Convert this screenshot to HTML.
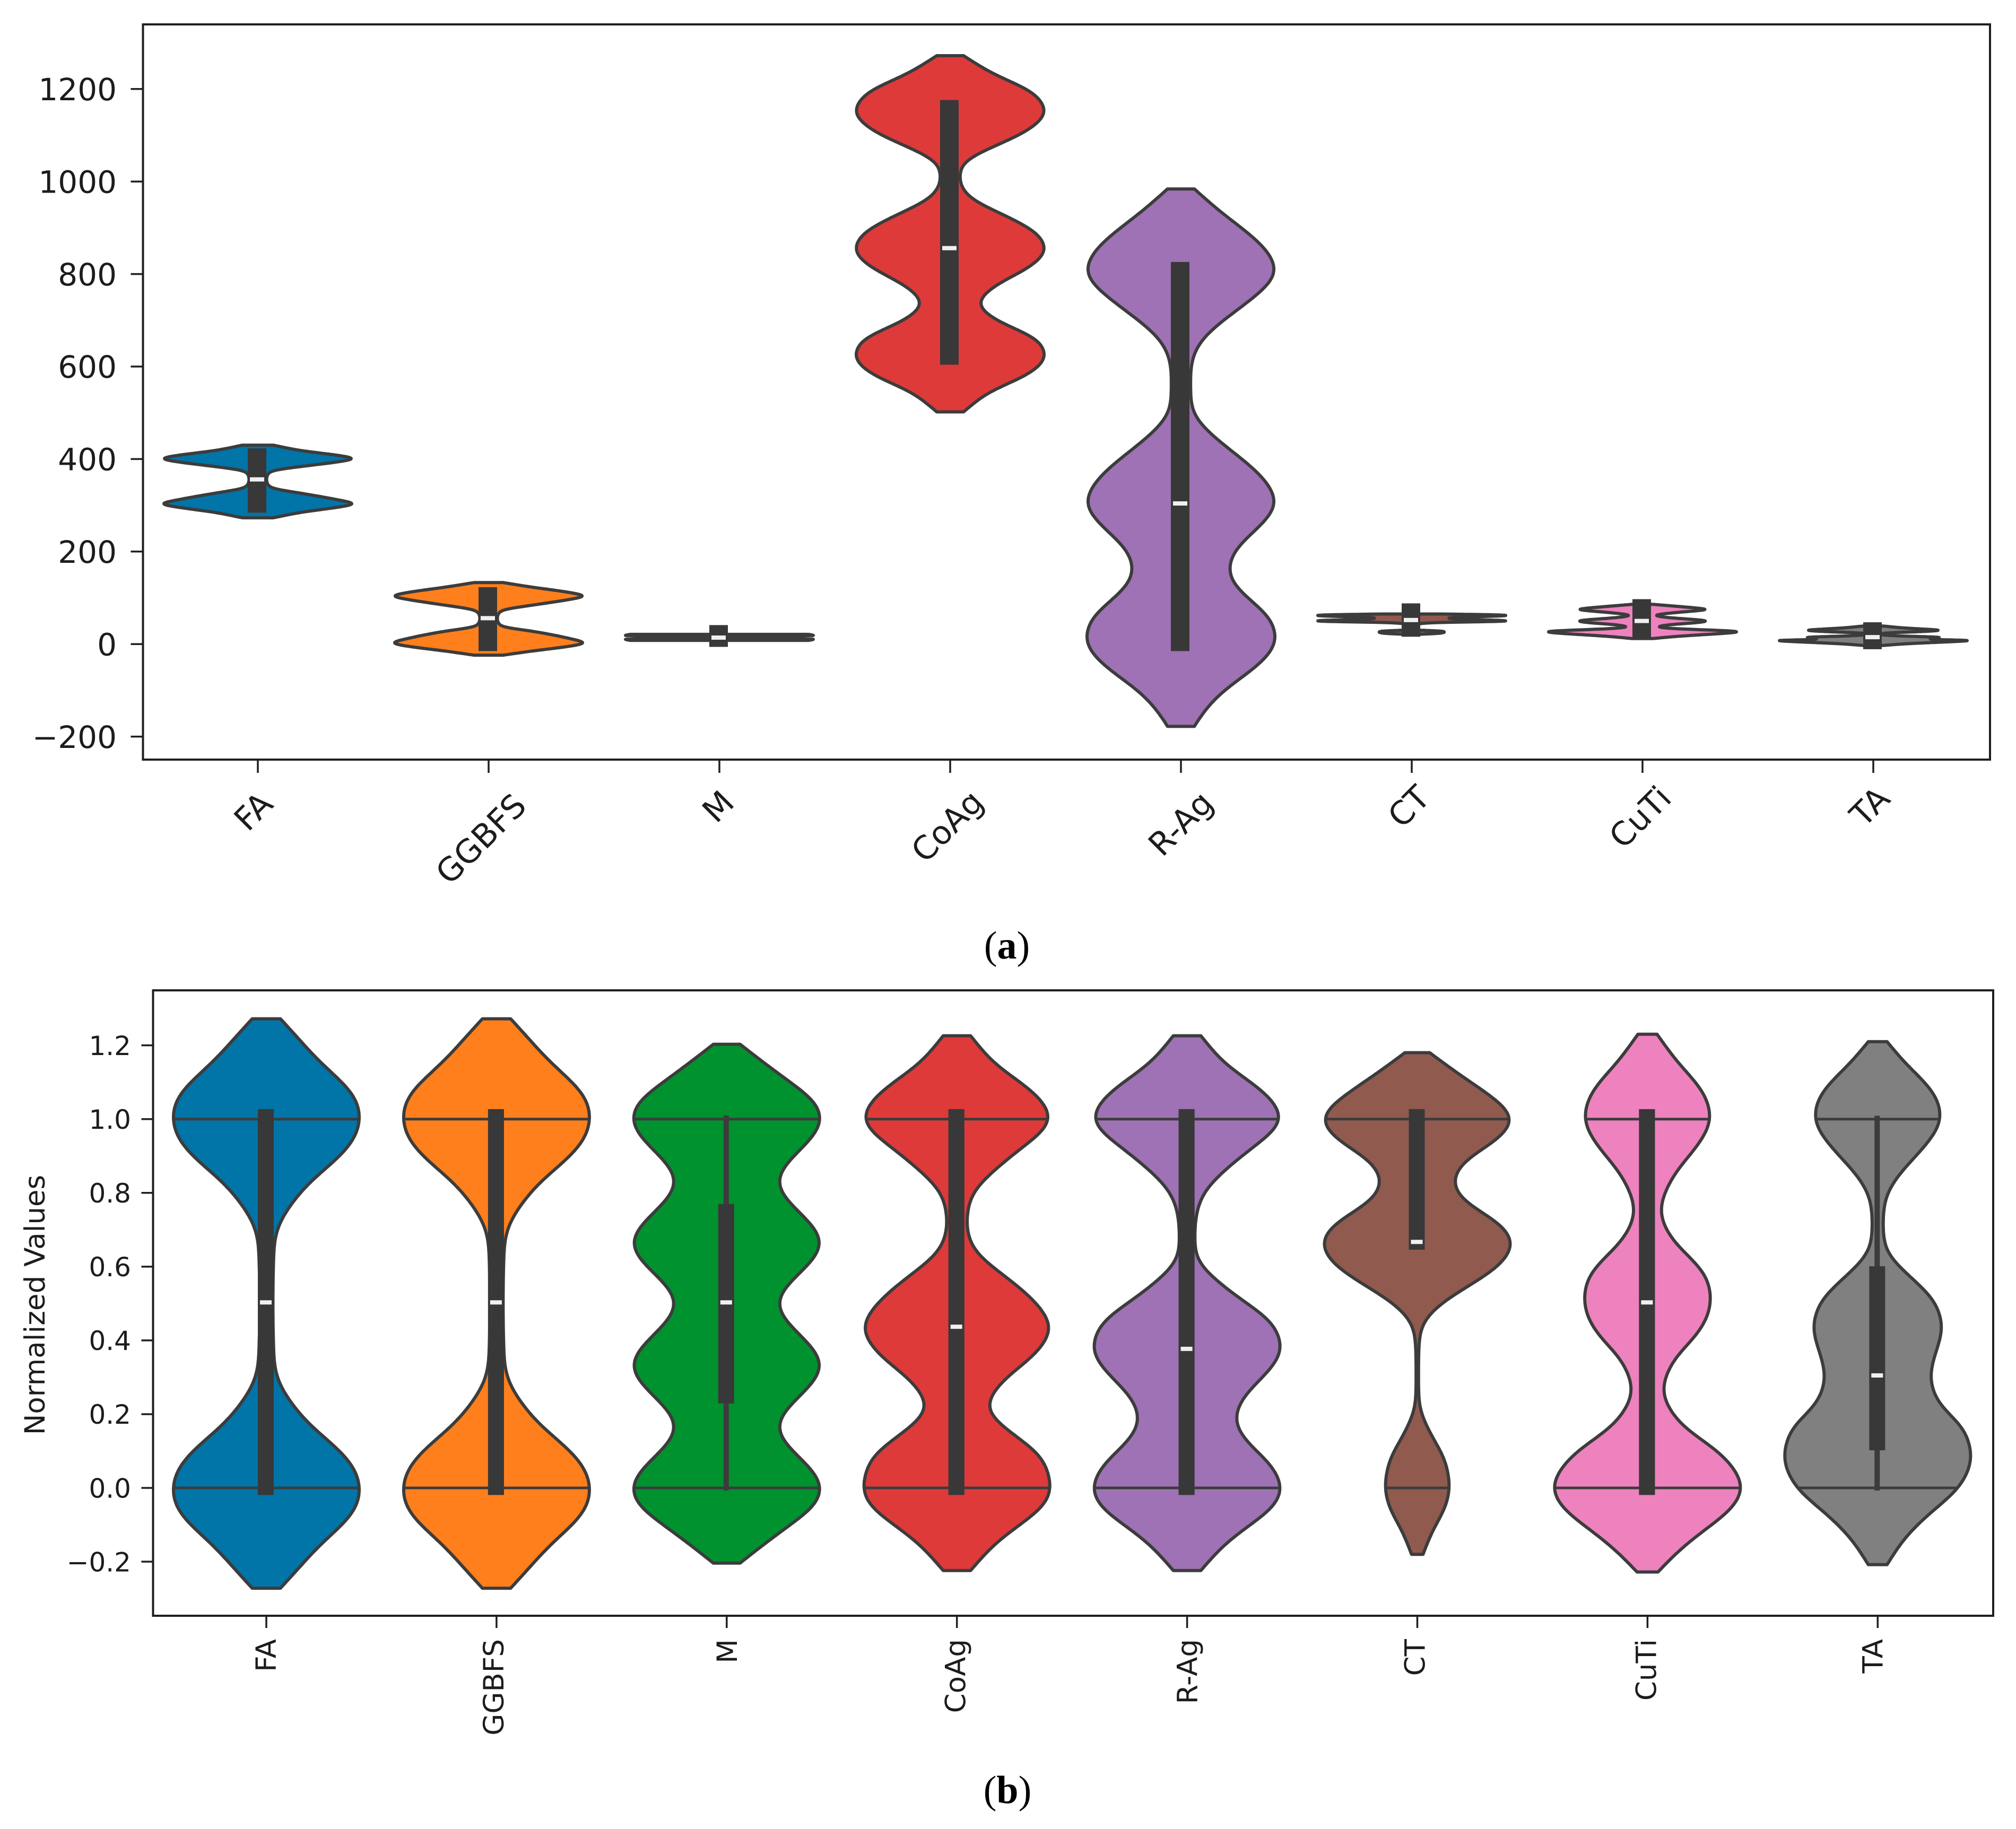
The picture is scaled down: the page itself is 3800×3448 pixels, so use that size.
<!DOCTYPE html>
<html lang="en">
<head>
<meta charset="utf-8">
<title>Violin plots of mix proportions: raw (a) and normalized (b)</title>
<style>
html,body{margin:0;padding:0;background:#fff;width:3800px;height:3448px;overflow:hidden}
svg{display:block}
text{font-family:"DejaVu Sans","Liberation Sans",sans-serif;fill:#1c1c1c}
.caption{font-family:"Liberation Serif",serif;font-size:74px;fill:#000}
</style>
</head>
<body>
<svg id="figure" xmlns="http://www.w3.org/2000/svg" width="3800" height="3448" viewBox="0 0 3800 3448">
  <rect x="0" y="0" width="3800" height="3448" fill="#fff"/>
  <g id="panel-a"></g>
  <g id="panel-b"></g>
  <text class="caption" x="1898" y="1807" text-anchor="middle">(<tspan font-weight="bold">a</tspan>)</text>
  <text class="caption" x="1899" y="3399" text-anchor="middle">(<tspan font-weight="bold">b</tspan>)</text>
  <text transform="translate(84 2460) rotate(-90)" text-anchor="middle" font-size="53">Normalized Values</text>
</svg>
<script>
// ---------- shared categories ----------
const categories = ['FA', 'GGBFS', 'M', 'CoAg', 'R-Ag', 'CT', 'CuTi', 'TA'];
const fillColors = ['#0174a8', '#ff7f1c', '#00922e', '#de3a3a', '#9e72b4', '#915a4f', '#ee82be', '#808080'];

// ---------- panel (a): raw values ----------
const aYTicks = [-200, 0, 200, 400, 600, 800, 1000, 1200];
const aYTickLabels = ['\u2212200', '0', '200', '400', '600', '800', '1000', '1200'];

const aFAValues = [430, 418, 409, 401, 393, 384, 374, 366, 356, 346, 338, 326, 313, 303, 295, 285, 273];
const aFADensity = [0.16, 0.45, 0.8, 1, 0.8, 0.45, 0.14, 0.1, 0.09, 0.1, 0.14, 0.45, 0.8, 1, 0.8, 0.45, 0.16];
const aGGBFSValues = [133, 123, 113, 104, 95, 84, 73, 65, 56, 46, 38, 28, 14, 2, -6, -15, -24];
const aGGBFSDensity = [0.15, 0.45, 0.8, 1, 0.8, 0.45, 0.14, 0.1, 0.09, 0.1, 0.14, 0.45, 0.8, 1, 0.8, 0.45, 0.15];
const aMValues = [21, 18.5, 16, 14.5, 13, 10.5, 8];
const aMDensity = [0.95, 1, 0.2, 0.05, 0.2, 1, 0.95];
const aCoAgValues = [1272, 1232, 1191, 1150, 1110, 1068, 1038, 1002, 967, 925, 884, 852, 812, 777, 736, 695, 660, 621, 582, 546, 502];
const aCoAgDensity = [0.14, 0.45, 0.88, 1, 0.81, 0.37, 0.12, 0.097, 0.19, 0.59, 0.93, 1, 0.81, 0.48, 0.29, 0.52, 0.91, 1, 0.81, 0.41, 0.14];
const aRAgValues = [984, 936, 884, 843, 803, 751, 700, 649, 597, 546, 506, 454, 403, 352, 304, 250, 198, 152, 107, 55, 6, -47, -99, -145, -178];
const aRAgDensity = [0.14, 0.4, 0.73, 0.93, 1, 0.77, 0.44, 0.18, 0.1, 0.1, 0.11, 0.31, 0.62, 0.89, 1, 0.8, 0.54, 0.49, 0.65, 0.94, 1, 0.8, 0.45, 0.24, 0.14];
const aCTValues = [65, 63, 61.5, 58, 56, 54, 50.5, 49, 47, 43, 35, 30, 28.5, 26, 23.5, 21];
const aCTDensity = [0.3, 0.95, 1, 0.45, 0.37, 0.45, 1, 0.95, 0.3, 0.05, 0.012, 0.05, 0.3, 0.34, 0.3, 0.06];
const aCuTiValues = [86, 82, 78, 75, 71, 67, 62, 57, 53, 50, 46, 42, 37, 33, 30, 27, 24, 20, 16, 12];
const aCuTiDensity = [0.1, 0.33, 0.55, 0.665, 0.5, 0.28, 0.13, 0.27, 0.54, 0.665, 0.54, 0.28, 0.155, 0.35, 0.74, 1, 0.89, 0.59, 0.31, 0.11];
const aTAValues = [39, 35, 32, 30, 27, 25, 22, 20, 17, 15.5, 14, 12.5, 11, 9.5, 8, 6, 3, 0, -3];
const aTADensity = [0.1, 0.3, 0.54, 0.675, 0.49, 0.23, 0.055, 0.08, 0.33, 0.61, 0.69, 0.61, 0.555, 0.64, 1, 0.87, 0.56, 0.28, 0.1];

const aBoxLow = [284, -15, -6, 604, -15, 16, 13, -11];
const aBoxHigh = [423, 123, 41, 1176, 826, 88, 97, 47];
const aWhiskerLow = [284, -15, -6, 604, -15, 16, 13, -11];
const aWhiskerHigh = [423, 123, 41, 1176, 826, 88, 97, 47];
const aMedian = [356, 56, 14, 856, 304, 52, 50, 15];
const aRefLines = [];

// ---------- panel (b): normalized values ----------
const bYTicks = [-0.2, 0, 0.2, 0.4, 0.6, 0.8, 1, 1.2];
const bYTickLabels = ['\u22120.2', '0.0', '0.2', '0.4', '0.6', '0.8', '1.0', '1.2'];

const bFAValues = [1.272, 1.233, 1.149, 1.09, 1.042, 1, 0.947, 0.887, 0.827, 0.768, 0.72, 0.672, 0.5, 0.328, 0.28, 0.232, 0.173, 0.113, 0.053, 0, -0.042, -0.09, -0.149, -0.233, -0.272];
const bFADensity = [0.15, 0.29, 0.59, 0.85, 0.98, 1, 0.94, 0.73, 0.45, 0.26, 0.14, 0.085, 0.07, 0.085, 0.14, 0.26, 0.45, 0.73, 0.94, 1, 0.98, 0.85, 0.59, 0.29, 0.15];
const bGGBFSValues = [1.272, 1.233, 1.149, 1.09, 1.042, 1, 0.947, 0.887, 0.827, 0.768, 0.72, 0.672, 0.5, 0.328, 0.28, 0.232, 0.173, 0.113, 0.053, 0, -0.042, -0.09, -0.149, -0.233, -0.272];
const bGGBFSDensity = [0.15, 0.29, 0.59, 0.85, 0.98, 1, 0.94, 0.73, 0.45, 0.26, 0.14, 0.085, 0.07, 0.085, 0.14, 0.26, 0.45, 0.73, 0.94, 1, 0.98, 0.85, 0.59, 0.29, 0.15];
const bMValues = [1.203, 1.149, 1.09, 1.042, 1, 0.83, 0.664, 0.5, 0.332, 0.165, 0, -0.042, -0.09, -0.149, -0.204];
const bMDensity = [0.14, 0.41, 0.72, 0.95, 1, 0.53, 1, 0.53, 1, 0.53, 1, 0.95, 0.72, 0.41, 0.14];
const bCoAgValues = [1.226, 1.149, 1.09, 1.042, 1, 0.911, 0.851, 0.79, 0.714, 0.648, 0.576, 0.505, 0.434, 0.362, 0.29, 0.217, 0.148, 0.088, 0.04, 0, -0.042, -0.09, -0.149, -0.224];
const bCoAgDensity = [0.145, 0.4, 0.73, 0.93, 1, 0.63, 0.35, 0.145, 0.1, 0.17, 0.5, 0.83, 1, 0.83, 0.48, 0.31, 0.58, 0.89, 0.97, 1, 0.95, 0.72, 0.41, 0.145];
const bRAgValues = [1.226, 1.149, 1.09, 1.042, 1, 0.911, 0.851, 0.79, 0.72, 0.672, 0.625, 0.576, 0.505, 0.446, 0.374, 0.303, 0.243, 0.183, 0.124, 0.065, 0, -0.042, -0.09, -0.149, -0.224];
const bRAgDensity = [0.145, 0.4, 0.73, 0.93, 1, 0.63, 0.35, 0.15, 0.085, 0.08, 0.09, 0.25, 0.6, 0.91, 1, 0.81, 0.58, 0.5, 0.63, 0.88, 1, 0.95, 0.72, 0.41, 0.145];
const bCTValues = [1.18, 1.126, 1.066, 1.024, 1, 0.946, 0.887, 0.831, 0.78, 0.72, 0.666, 0.613, 0.553, 0.493, 0.434, 0.374, 0.3, 0.219, 0.184, 0.136, 0.076, 0, -0.055, -0.115, -0.18];
const bCTDensity = [0.13, 0.41, 0.75, 0.95, 1, 0.85, 0.49, 0.37, 0.47, 0.85, 1, 0.9, 0.57, 0.21, 0.035, 0.015, 0.012, 0.02, 0.07, 0.16, 0.29, 0.34, 0.29, 0.16, 0.06];
const bCuTiValues = [1.23, 1.149, 1.09, 1.042, 1, 0.923, 0.851, 0.75, 0.672, 0.601, 0.553, 0.5, 0.422, 0.35, 0.265, 0.171, 0.1, 0.04, 0, -0.055, -0.115, -0.174, -0.228];
const bCuTiDensity = [0.1, 0.33, 0.54, 0.64, 0.665, 0.51, 0.28, 0.13, 0.26, 0.54, 0.65, 0.665, 0.54, 0.28, 0.155, 0.35, 0.74, 0.94, 1, 0.89, 0.59, 0.31, 0.11];
const bTAValues = [1.21, 1.149, 1.09, 1.042, 1, 0.923, 0.851, 0.78, 0.714, 0.648, 0.576, 0.505, 0.434, 0.362, 0.303, 0.231, 0.16, 0.082, 0.002, -0.067, -0.138, -0.208];
const bTADensity = [0.1, 0.3, 0.54, 0.655, 0.675, 0.49, 0.23, 0.075, 0.055, 0.08, 0.33, 0.61, 0.69, 0.61, 0.555, 0.64, 0.92, 1, 0.87, 0.56, 0.28, 0.1];

const bBoxLow = [-0.019, -0.019, 0.229, -0.019, -0.019, 0.646, -0.019, 0.102];
const bBoxHigh = [1.027, 1.027, 0.77, 1.027, 1.027, 1.027, 1.027, 0.601];
const bWhiskerLow = [-0.019, -0.019, -0.007, -0.019, -0.019, 0.646, -0.019, -0.007];
const bWhiskerHigh = [1.027, 1.027, 1.01, 1.027, 1.027, 1.027, 1.027, 1.009];
const bMedian = [0.503, 0.503, 0.503, 0.437, 0.377, 0.667, 0.503, 0.305];
const bRefLines = [0, 1];

// ---------- layout (not data) ----------
const aLabelOffsetX = [-9, -15, -3, -6, -1, -6, -5, -7];
const aLabelCenterY = [1529, 1581, 1520, 1557, 1552, 1520, 1540, 1520];
const bLabelOffsetX = [-1, -6, 0, -3, 0, -5, -3, -10];

const SVG_NS = 'http://www.w3.org/2000/svg';
const INK = '#3c3c3c';
const AXIS = '#1f1f1f';

function make(tag, parent, attrs) {
  const node = document.createElementNS(SVG_NS, tag);
  for (const k in attrs) node.setAttribute(k, attrs[k]);
  parent.appendChild(node);
  return node;
}

function linearScale(d0, d1, r0, r1) {
  return function (v) { return r0 + (v - d0) * (r1 - r0) / (d1 - d0); };
}

// Monotone cubic through the density profile.
function densityCurve(values, density) {
  const n = values.length;
  const secant = [];
  for (let i = 0; i < n - 1; i++) secant.push((density[i + 1] - density[i]) / (values[i + 1] - values[i]));
  const slope = [secant[0]];
  for (let i = 1; i < n - 1; i++) {
    const a = secant[i - 1], b = secant[i];
    const h0 = values[i] - values[i - 1], h1 = values[i + 1] - values[i];
    slope.push(a * b <= 0 ? 0 : 3 * (h0 + h1) / ((h0 + 2 * h1) / a + (2 * h0 + h1) / b));
  }
  slope.push(secant[n - 2]);
  return function (v) {
    if (v >= values[0]) return density[0];
    if (v <= values[n - 1]) return density[n - 1];
    let i = 0;
    while (i < n - 2 && v < values[i + 1]) i++;
    const h = values[i + 1] - values[i];
    const t = (v - values[i]) / h;
    const t2 = t * t, t3 = t2 * t;
    return (2 * t3 - 3 * t2 + 1) * density[i] + (t3 - 2 * t2 + t) * h * slope[i] +
           (-2 * t3 + 3 * t2) * density[i + 1] + (t3 - t2) * h * slope[i + 1];
  };
}

// Light smoothing of the sampled outline so it reads like a kernel density edge.
// The result is rescaled so the widest point keeps its measured width.
function smoothOutline(samples, radius, passes) {
  let cur = samples.slice();
  for (let p = 0; p < passes; p++) {
    const next = cur.slice();
    for (let i = 0; i < cur.length; i++) {
      const r = Math.min(radius, i, cur.length - 1 - i);
      let sum = 0;
      for (let j = i - r; j <= i + r; j++) sum += cur[j];
      next[i] = sum / (2 * r + 1);
    }
    cur = next;
  }
  const gain = Math.max.apply(null, samples) / Math.max.apply(null, cur);
  return cur.map(function (h) { return h * gain; });
}

function drawViolin(g, cat, cx, yScale, values, density, maxHalf, color, refLines, boxHalf, boxShift, low, high, wLow, wHigh, med, whiskerHalf) {
  const curve = densityCurve(values, density);
  const top = values[0], bottom = values[values.length - 1];
  const steps = 300;
  const raw = [];
  for (let s = 0; s <= steps; s++) raw.push(curve(top + (bottom - top) * s / steps) * maxHalf);
  const halves = smoothOutline(raw, 5, 3);
  const right = [], left = [];
  for (let s = 0; s <= steps; s++) {
    const y = yScale(top + (bottom - top) * s / steps).toFixed(1);
    right.push((cx + halves[s]).toFixed(1) + ',' + y);
    left.unshift((cx - halves[s]).toFixed(1) + ',' + y);
  }
  const slug = cat.toLowerCase();
  const body = make('polygon', g, { points: right.concat(left).join(' '), fill: color, stroke: INK, 'stroke-width': 6, 'stroke-linejoin': 'round' });
  
  

  refLines.forEach(function (ref) {
    const half = halves[Math.round((ref - top) / (bottom - top) * steps)];
    const line = make('line', g, { x1: cx - half, x2: cx + half, y1: yScale(ref), y2: yScale(ref), stroke: INK, 'stroke-width': 5 });
    
    
  });

  const bx = cx + boxShift;
  const whisker = make('rect', g, { x: bx - whiskerHalf, width: whiskerHalf * 2, y: yScale(wHigh), height: yScale(wLow) - yScale(wHigh), fill: INK });
  
  

  const box = make('rect', g, { x: bx - boxHalf, width: boxHalf * 2, y: yScale(high), height: yScale(low) - yScale(high), fill: '#383838' });
  
  

  const mark = make('rect', g, { x: bx - boxHalf + 4, width: boxHalf * 2 - 8, y: yScale(med) - 4, height: 8, fill: '#f0f0f0' });
  
  
}

function drawFrame(g, left, top, right, bottom) {
  const frame = make('rect', g, { x: left, y: top, width: right - left, height: bottom - top, fill: 'none', stroke: AXIS, 'stroke-width': 4 });
  
  
}

function drawYAxis(g, ticks, labels, yScale, left, tickLen, fontSize, textRight) {
  ticks.forEach(function (t, i) {
    const y = yScale(t);
    const mark = make('line', g, { x1: left - tickLen, x2: left, y1: y, y2: y, stroke: AXIS, 'stroke-width': 3.5 });
    
    
    const label = make('text', g, { x: textRight, y: y + fontSize * 0.365, 'text-anchor': 'end', 'font-size': fontSize });
    
    
    label.textContent = labels[i];
  });
}

function drawXTick(g, x, bottom, tickLen) {
  const mark = make('line', g, { x1: x, x2: x, y1: bottom, y2: bottom + tickLen, stroke: AXIS, 'stroke-width': 3.5 });
  
  
}

// ---------- panel (a) ----------
(function () {
  const g = document.getElementById('panel-a');
  const values = [aFAValues, aGGBFSValues, aMValues, aCoAgValues, aRAgValues, aCTValues, aCuTiValues, aTAValues];
  const density = [aFADensity, aGGBFSDensity, aMDensity, aCoAgDensity, aRAgDensity, aCTDensity, aCuTiDensity, aTADensity];
  const y = linearScale(0, 1200, 1214.2, 167.8);
  const x = function (i) { return 486 + 435 * i; };
  const L = 269.5, T = 46, R = 3751, B = 1432;
  categories.forEach(function (cat, i) {
    drawViolin(g, cat, x(i), y, values[i], density[i], 177, fillColors[i], aRefLines, 17.5, -1.5,
      aBoxLow[i], aBoxHigh[i], aWhiskerLow[i], aWhiskerHigh[i], aMedian[i], 17.5);
    drawXTick(g, x(i), B, 25);
    const label = make('text', g, { 'text-anchor': 'middle', 'font-size': 61, y: 22, transform: 'translate(' + (x(i) + aLabelOffsetX[i]) + ' ' + aLabelCenterY[i] + ') rotate(-45)' });
    
    
    label.textContent = cat;
  });
  drawYAxis(g, aYTicks, aYTickLabels, y, L, 23, 58, 220);
  drawFrame(g, L, T, R, B);
})();

// ---------- panel (b) ----------
(function () {
  const g = document.getElementById('panel-b');
  const values = [bFAValues, bGGBFSValues, bMValues, bCoAgValues, bRAgValues, bCTValues, bCuTiValues, bTAValues];
  const density = [bFADensity, bGGBFSDensity, bMDensity, bCoAgDensity, bRAgDensity, bCTDensity, bCuTiDensity, bTADensity];
  const y = linearScale(0, 1, 2805, 2109.7);
  const x = function (i) { return 502 + 433.9 * i; };
  const L = 288.5, T = 1867, R = 3757, B = 3046;
  categories.forEach(function (cat, i) {
    const thin = (bWhiskerLow[i] !== bBoxLow[i]);
    drawViolin(g, cat, x(i), y, values[i], density[i], 175, fillColors[i], bRefLines, 15, -1,
      bBoxLow[i], bBoxHigh[i], bWhiskerLow[i], bWhiskerHigh[i], bMedian[i], thin ? 5 : 15);
    drawXTick(g, x(i), B, 23);
    const label = make('text', g, { 'text-anchor': 'end', 'font-size': 53, x: 0, y: 19, transform: 'translate(' + (x(i) + bLabelOffsetX[i]) + ' 3090) rotate(-90)' });
    
    
    label.textContent = cat;
  });
  drawYAxis(g, bYTicks, bYTickLabels, y, L, 22, 50, 247);
  drawFrame(g, L, T, R, B);
})();
</script>
</body>
</html>
